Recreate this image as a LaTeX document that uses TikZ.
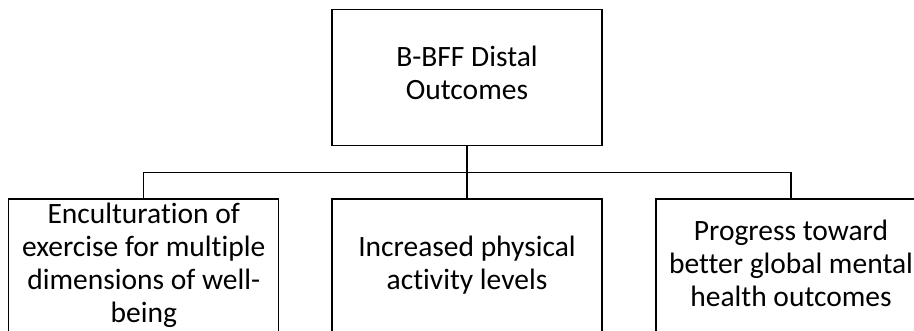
\documentclass[tikz,border=0pt]{standalone}
\usepackage{fontspec}
\setmainfont{Carlito}[Ligatures=NoCommon]
\begin{document}
\begin{tikzpicture}[x=1pt,y=1pt,
  box/.style={draw=black, line width=1.4pt, minimum width=270pt, align=center,
    inner sep=0pt, font=\fontsize{29.5}{33}\selectfont,
    execute at begin node=\strut, execute at end node=\strut},
  link/.style={draw=black, line width=1.4pt}]
  \useasboundingbox (0,0) rectangle (914,-330);
  \clip (0,0) rectangle (914,-330);
  % outcome boxes
  \node[box, minimum height=135.5pt] (top) at (467,-77.5) {B-BFF Distal\\Outcomes};
  \node[box, minimum height=138pt] (left) at (143.75,-268) {Enculturation of\\exercise for multiple\\dimensions of well-\\being};
  \node[box, minimum height=138pt] (mid) at (467,-268) {Increased physical\\activity levels};
  \node[box, minimum height=138pt] (right) at (791,-268) {Progress toward\\better global mental\\health outcomes};
  % branching connector
  \coordinate (bar) at (0,-172.5);
  \draw[link] (top.south) -- (mid.north);
  \draw[link] (left.north) -- (left.north |- bar) -- (right.north |- bar) -- (right.north);
\end{tikzpicture}
\end{document}
